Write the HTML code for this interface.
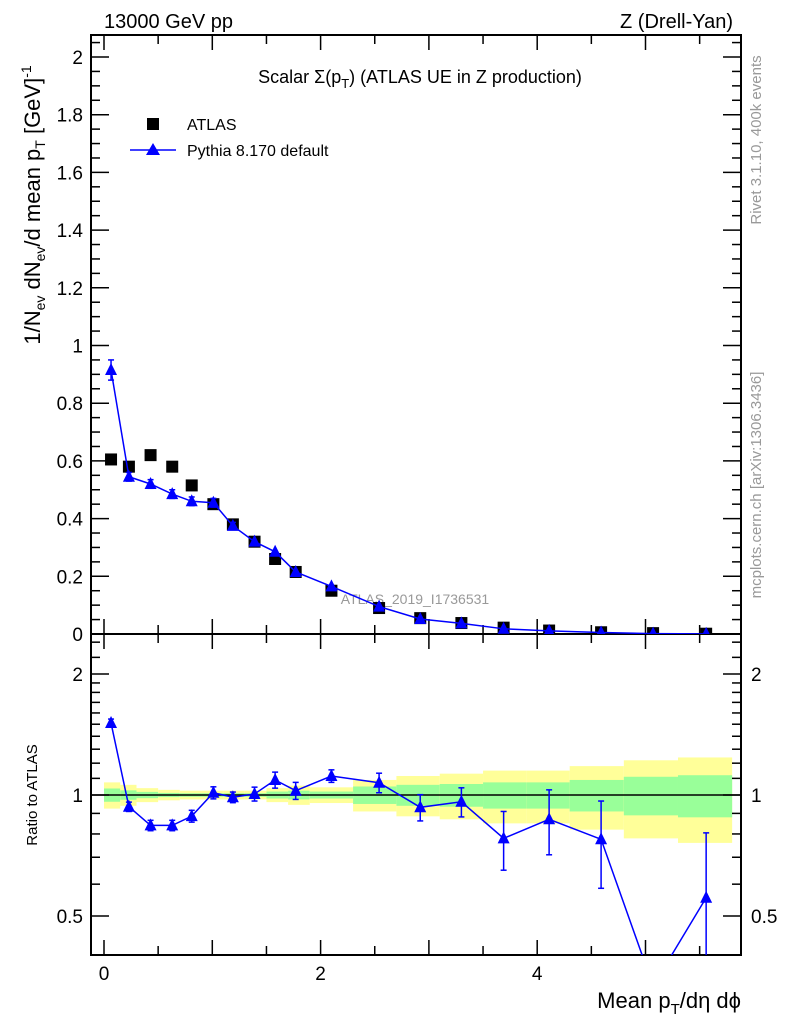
<!DOCTYPE html>
<html><head><meta charset="utf-8"><style>
html,body{margin:0;background:#fff;overflow:hidden;width:786px;height:1024px;}
svg{display:block;font-family:"Liberation Sans",sans-serif;}
</style></head><body>
<svg id="c" width="786" height="1024" viewBox="0 0 786 1024" xmlns="http://www.w3.org/2000/svg">
<text x="104" y="28" font-size="20">13000 GeV pp</text>
<text x="733" y="28" font-size="20" text-anchor="end">Z (Drell-Yan)</text>
<text x="420" y="83" font-size="18" text-anchor="middle">Scalar Σ(p<tspan font-size="13" dy="5">T</tspan><tspan dy="-5">) (ATLAS UE in Z production)</tspan></text>
<text x="415" y="604" font-size="14" fill="#999" text-anchor="middle">ATLAS_2019_I1736531</text>
<g>
<rect x="147" y="118" width="12" height="12" fill="#000"/>
<text x="187" y="130" font-size="16">ATLAS</text>
<line x1="130" y1="150" x2="176" y2="150" stroke="#00f" stroke-width="1.5"/>
<polygon points="153,143 160,155 146,155" fill="#00f"/>
<text x="187" y="156" font-size="16">Pythia 8.170 default</text>
</g>
<text transform="translate(40,205) rotate(-90)" font-size="22" text-anchor="middle">1/N<tspan font-size="14" dy="5">ev</tspan><tspan dy="-5"> dN</tspan><tspan font-size="14" dy="5">ev</tspan><tspan dy="-5">/d mean p</tspan><tspan font-size="14" dy="5">T</tspan><tspan dy="-5"> [GeV]</tspan><tspan font-size="14" dy="-9">-1</tspan></text>
<text transform="translate(37,795) rotate(-90)" font-size="15" text-anchor="middle">Ratio to ATLAS</text>
<text transform="translate(761,140) rotate(-90)" font-size="15" fill="#999" text-anchor="middle">Rivet 3.1.10,  400k events</text>
<text transform="translate(761,485) rotate(-90)" font-size="15" fill="#999" text-anchor="middle">mcplots.cern.ch [arXiv:1306.3436]</text>
<text x="741" y="1008" font-size="22" text-anchor="end">Mean p<tspan font-size="15" dy="6">T</tspan><tspan dy="-6">/dη dϕ</tspan></text>
<g id="g"></g>
</svg>
<script>
const binEdges=[0,0.15,0.3,0.5,0.7,0.9,1.1,1.3,1.5,1.7,1.9,2.3,2.7,3.1,3.5,3.9,4.3,4.8,5.3,5.8];
const xCenters=[0.065,0.23,0.43,0.63,0.81,1.01,1.19,1.39,1.58,1.77,2.1,2.54,2.92,3.3,3.69,4.11,4.59,5.07,5.56];
const atlasVals=[0.605,0.58,0.62,0.58,0.515,0.45,0.38,0.32,0.26,0.215,0.15,0.09,0.055,0.038,0.022,0.012,0.006,0.003,0.001];
const pythiaVals=[0.915,0.545,0.52,0.485,0.46,0.455,0.375,0.32,0.285,0.215,0.165,0.095,0.052,0.037,0.018,0.011,0.005,0.0015,0.0006];
const pythiaErr=[0.035,0.015,0.015,0.015,0.015,0.015,0.012,0.01,0.01,0.008,0.007,0.005,0.004,0.003,0.003,0.002,0.002,0.001,0.001];
const ratioVals=[1.51,0.935,0.84,0.84,0.886,1.013,0.987,1.006,1.09,1.025,1.115,1.073,0.932,0.962,0.78,0.87,0.776,0.335,0.555];
const ratioErr=[0.035,0.025,0.025,0.025,0.03,0.035,0.03,0.04,0.05,0.05,0.04,0.06,0.07,0.08,0.13,0.16,0.19,0.02,0.25];
const bandTotal=[0.075,0.06,0.04,0.03,0.025,0.025,0.025,0.025,0.04,0.055,0.045,0.09,0.115,0.13,0.15,0.15,0.18,0.22,0.24];
const bandStat=[0.038,0.027,0.018,0.012,0.01,0.01,0.01,0.01,0.02,0.025,0.02,0.05,0.06,0.065,0.075,0.075,0.09,0.11,0.12];
const mainTicks=[0,0.2,0.4,0.6,0.8,1,1.2,1.4,1.6,1.8,2];
const mainTickLabels=["0","0.2","0.4","0.6","0.8","1","1.2","1.4","1.6","1.8","2"];
const xTickLabels=["0","2","4"];
const xTickVals=[0,2,4];
const ratioTickVals=[0.5,1,2];
const ratioTickLabels=["0.5","1","2"];

const L=91,R=741,T=35,MB=634,RB=955;
const NS="http://www.w3.org/2000/svg";
const g=document.getElementById('g');
const X=v=>104+v*108.3;
const Y=v=>MB-v*288.5;
const YR=r=>795-121*Math.log2(r);
function el(tag,attrs,parent){const e=document.createElementNS(NS,tag);for(const k in attrs)e.setAttribute(k,attrs[k]);(parent||g).appendChild(e);return e;}
const defs=el('defs',{});
const cp=el('clipPath',{id:'cr'},defs);el('rect',{x:L,y:MB,width:R-L,height:RB-MB},cp);
const cm=el('clipPath',{id:'cm'},defs);el('rect',{x:L,y:T,width:R-L,height:MB-T},cm);

const bandG=el('g',{'clip-path':'url(#cr)'});


for(let i=0;i<xCenters.length;i++){
  const x0=X(binEdges[i]),x1=X(binEdges[i+1]);
  const y=el('rect',{x:x0,y:YR(1+bandTotal[i]),width:x1-x0,height:YR(1-bandTotal[i])-YR(1+bandTotal[i]),fill:'#ffff99'},bandG);
  
  
  const gr=el('rect',{x:x0,y:YR(1+bandStat[i]),width:x1-x0,height:YR(1-bandStat[i])-YR(1+bandStat[i]),fill:'#99ff99'},bandG);
  
  
}
const one=el('line',{x1:L,x2:R,y1:YR(1),y2:YR(1),stroke:'#000','stroke-width':1.5});



const f1=el('rect',{x:L,y:T,width:R-L,height:MB-T,fill:'none',stroke:'#000','stroke-width':2});


const f2=el('rect',{x:L,y:MB,width:R-L,height:RB-MB,fill:'none',stroke:'#000','stroke-width':2});



for(let v=0;v<=2.0501;v+=0.05){
  const major=Math.abs(v/0.2-Math.round(v/0.2))<1e-6;
  const len=major?18:9,y=Y(v);
  el('line',{x1:L,x2:L+len,y1:y,y2:y,stroke:'#000','stroke-width':1.5});
  el('line',{x1:R,x2:R-len,y1:y,y2:y,stroke:'#000','stroke-width':1.5});
}
mainTicks.forEach((v,i)=>{const t=el('text',{x:L-8,y:Y(v)+7,'font-size':19,'text-anchor':'end'});t.textContent=mainTickLabels[i];

});
for(let v=0;v<=5.8;v+=0.5){
  const major=Math.abs(v-Math.round(v))<1e-6;const len=major?15:9,x=X(v);
  [[T,1],[MB,-1],[MB,1],[RB,-1]].forEach(([y0,d])=>el('line',{x1:x,x2:x,y1:y0,y2:y0+d*len,stroke:'#000','stroke-width':1.5}));
}
xTickVals.forEach((v,i)=>{const t=el('text',{x:X(v),y:980,'font-size':19,'text-anchor':'middle'});t.textContent=xTickLabels[i];

});
[0.4,0.5,0.6,0.7,0.8,0.9,1,2].forEach(v=>{const y=YR(v);if(y<MB||y>RB)return;const major=[0.5,1,2].includes(v);const len=major?18:9;
 el('line',{x1:L,x2:L+len,y1:y,y2:y,stroke:'#000','stroke-width':1.5});el('line',{x1:R,x2:R-len,y1:y,y2:y,stroke:'#000','stroke-width':1.5});});
[1.1,1.2,1.3,1.4,1.5,1.6,1.7,1.8,1.9,2.2,2.4].forEach(v=>{const y=YR(v);if(y<MB)return;
 el('line',{x1:L,x2:L+9,y1:y,y2:y,stroke:'#000','stroke-width':1.5});el('line',{x1:R,x2:R-9,y1:y,y2:y,stroke:'#000','stroke-width':1.5});});
ratioTickVals.forEach((v,i)=>{[[L-8,'end'],[R+10,'start']].forEach(([x,a])=>{const t=el('text',{x:x,y:YR(v)+7,'font-size':19,'text-anchor':a});t.textContent=ratioTickLabels[i];

});});

const mg=el('g',{'clip-path':'url(#cm)'});
xCenters.forEach((x,i)=>{const r=el('rect',{x:X(x)-6,y:Y(atlasVals[i])-6,width:12,height:12,fill:'#000'},mg);

});
const pl=el('polyline',{points:xCenters.map((x,i)=>X(x)+','+Y(pythiaVals[i])).join(' '),fill:'none',stroke:'#00f','stroke-width':1.5},mg);


xCenters.forEach((x,i)=>{const cx=X(x),y=Y(pythiaVals[i]),e=pythiaErr[i]*288.5;
 if(e>3){el('line',{x1:cx,x2:cx,y1:y-e,y2:y+e,stroke:'#00f','stroke-width':1.5},mg);
 el('line',{x1:cx-3,x2:cx+3,y1:y-e,y2:y-e,stroke:'#00f','stroke-width':1.5},mg);el('line',{x1:cx-3,x2:cx+3,y1:y+e,y2:y+e,stroke:'#00f','stroke-width':1.5},mg);}
 const p=el('polygon',{points:`${cx},${y-7} ${cx+6},${y+5} ${cx-6},${y+5}`,fill:'#00f'},mg);
 
 });
const rg=el('g',{'clip-path':'url(#cr)'});
const rl=el('polyline',{points:xCenters.map((x,i)=>X(x)+','+YR(ratioVals[i])).join(' '),fill:'none',stroke:'#00f','stroke-width':1.5},rg);


xCenters.forEach((x,i)=>{const cx=X(x),r=ratioVals[i],e=ratioErr[i];
 const y1=YR(r+e),y2=YR(Math.max(r-e,0.01)),y=YR(r);
 el('line',{x1:cx,x2:cx,y1:y1,y2:y2,stroke:'#00f','stroke-width':1.5},rg);
 el('line',{x1:cx-3,x2:cx+3,y1:y1,y2:y1,stroke:'#00f','stroke-width':1.5},rg);el('line',{x1:cx-3,x2:cx+3,y1:y2,y2:y2,stroke:'#00f','stroke-width':1.5},rg);
 const p=el('polygon',{points:`${cx},${y-7} ${cx+6},${y+5} ${cx-6},${y+5}`,fill:'#00f'},rg);
 
 });
</script>
</body></html>
